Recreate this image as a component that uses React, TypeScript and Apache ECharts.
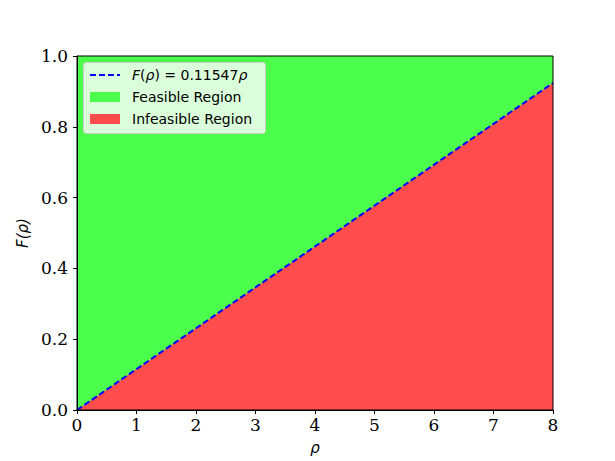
import React, { useEffect, useRef } from "react";
import * as echarts from "echarts";

const rhoValues = [0, 8];
const boundaryValues = [0, 0.92376];
const feasibleTop = [1, 1];
const lineLabel = "F(ρ) = 0.11547ρ";
const feasibleLabel = "Feasible Region";
const infeasibleLabel = "Infeasible Region";

const GREEN = "#4dff4d";
const RED = "#ff4d4d";
const BLUE = "#0000ff";

export default function App() {
  const ref = useRef<HTMLDivElement>(null);
  useEffect(() => {
    if (!ref.current) return;
    const chart = echarts.init(ref.current, undefined, { renderer: "svg" });
    const tickFont = { fontFamily: "DejaVu Serif", fontSize: 17, color: "#000" };
    chart.setOption({
      animation: false,
      backgroundColor: "#fff",
      grid: {
        left: 77,
        right: 62,
        top: 56,
        bottom: 51,
        show: true,
        borderColor: "#000",
        borderWidth: 1,
        backgroundColor: "transparent",
        z: 10,
      },
      xAxis: {
        type: "value",
        min: 0,
        max: 8,
        interval: 1,
        splitLine: { show: false },
        axisLine: { show: true, onZero: false, lineStyle: { color: "#000", width: 1 } },
        axisTick: { show: true, length: 4, lineStyle: { color: "#000" } },
        axisLabel: { ...tickFont, margin: 6, formatter: (v: number) => String(v) },
        name: "ρ",
        nameLocation: "middle",
        nameGap: 30,
        nameTextStyle: { fontFamily: "DejaVu Sans", fontStyle: "italic", fontSize: 15, color: "#000" },
        z: 10,
      },
      yAxis: {
        type: "value",
        min: 0,
        max: 1,
        interval: 0.2,
        splitLine: { show: false },
        axisLine: { show: true, onZero: false, lineStyle: { color: "#000", width: 1 } },
        axisTick: { show: true, length: 4, lineStyle: { color: "#000" } },
        axisLabel: { ...tickFont, margin: 9, formatter: (v: number) => v.toFixed(1) },
        name: "F(ρ)",
        nameLocation: "middle",
        nameGap: 47,
        nameRotate: 90,
        nameTextStyle: { fontFamily: "DejaVu Sans", fontStyle: "italic", fontSize: 15, color: "#000" },
        z: 10,
      },
      series: [
        {
          name: feasibleLabel,
          type: "line",
          data: rhoValues.map((x, i) => [x, feasibleTop[i]]),
          showSymbol: false,
          lineStyle: { width: 0 },
          areaStyle: { color: GREEN, opacity: 1, origin: "start" },
          z: 1,
        },
        {
          name: infeasibleLabel,
          type: "line",
          data: rhoValues.map((x, i) => [x, boundaryValues[i]]),
          showSymbol: false,
          lineStyle: { width: 0 },
          areaStyle: { color: RED, opacity: 1, origin: "start" },
          z: 2,
        },
        {
          name: lineLabel,
          type: "line",
          data: rhoValues.map((x, i) => [x, boundaryValues[i]]),
          showSymbol: false,
          lineStyle: { color: BLUE, width: 2, type: [6, 3] },
          z: 3,
        },
      ],
      graphic: [
        {
          type: "rect",
          shape: { x: 83.5, y: 62.5, width: 182, height: 71, r: 3 },
          style: { fill: "rgba(255,255,255,0.8)", stroke: "#cccccc", lineWidth: 1 },
          z: 20,
        },
        {
          type: "line",
          shape: { x1: 90, y1: 75, x2: 120, y2: 75 },
          style: { stroke: BLUE, lineWidth: 2, lineDash: [6, 3] },
          z: 21,
        },
        {
          type: "rect",
          shape: { x: 90, y: 92, width: 30, height: 10 },
          style: { fill: GREEN },
          z: 21,
        },
        {
          type: "rect",
          shape: { x: 90, y: 114, width: 30, height: 10 },
          style: { fill: RED },
          z: 21,
        },
        {
          type: "text",
          x: 132,
          y: 75,
          style: {
            text: "{i|F}{n|(}{i|ρ}{n|) = 0.11547}{i|ρ}",
            verticalAlign: "middle",
            rich: {
              i: { fontFamily: "DejaVu Sans", fontStyle: "italic", fontSize: 14, fill: "#000" },
              n: { fontFamily: "DejaVu Sans", fontSize: 14, fill: "#000" },
            },
          },
          z: 21,
        },
        {
          type: "text",
          x: 132,
          y: 97,
          style: { text: feasibleLabel, verticalAlign: "middle", fontFamily: "DejaVu Sans", fontSize: 14, fill: "#000" },
          z: 21,
        },
        {
          type: "text",
          x: 132,
          y: 119,
          style: { text: infeasibleLabel, verticalAlign: "middle", fontFamily: "DejaVu Sans", fontSize: 14, fill: "#000" },
          z: 21,
        },
      ],
    });
    return () => chart.dispose();
  }, []);
  return <div ref={ref} style={{ width: 615, height: 461, position: "absolute", left: 0, top: 0 }} />;
}
